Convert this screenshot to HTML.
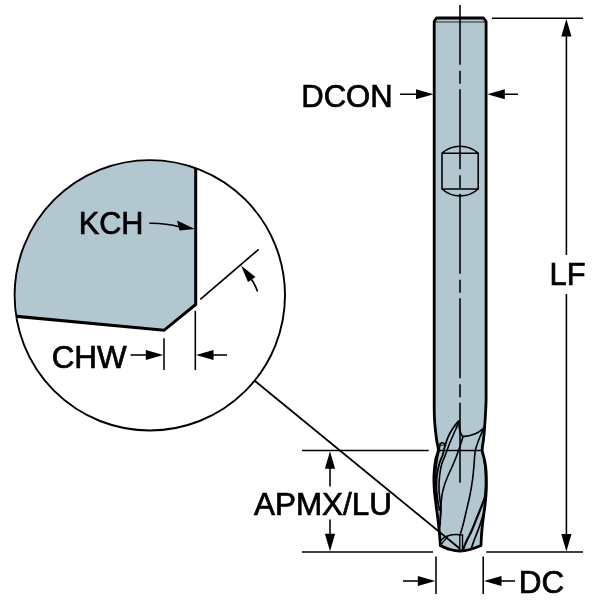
<!DOCTYPE html>
<html><head><meta charset="utf-8">
<style>
html,body{margin:0;padding:0;background:#fff;}
svg{display:block;will-change:transform}
text{font-family:"Liberation Sans",Arial,sans-serif;font-size:31px;fill:#000;stroke:#000;stroke-width:0.7px}
</style></head><body>
<svg width="600" height="600" viewBox="0 0 600 600">
<rect width="600" height="600" fill="#fff"/>
<!-- detail circle -->
<defs><clipPath id="cc"><circle cx="149.8" cy="295.3" r="135.2"/></clipPath></defs>
<g clip-path="url(#cc)">
<path d="M0,314.8 L164,330.3 L195.7,304.5 L195.7,150 L0,150 Z" fill="#b3c7d1"/>
<path d="M0,314.8 L164,330.3 L195.7,304.5 L195.7,150" fill="none" stroke="#000" stroke-width="3" stroke-linejoin="miter"/>
</g>
<circle cx="149.8" cy="295.3" r="135.2" fill="none" stroke="#000" stroke-width="1.9"/>
<!-- leader -->
<!-- KCH -->
<text x="78.7" y="234" textLength="64.8" lengthAdjust="spacingAndGlyphs">KCH</text>
<path d="M149.3,223.3 Q165,223 180,227" fill="none" stroke="#000" stroke-width="1.55"/>
<path d="M194.8,228.9 L179.5,230.4 L177,220.6 Z" fill="#000"/>
<!-- angle ext line -->
<line x1="200.3" y1="299.4" x2="258.7" y2="249.3" stroke="#000" stroke-width="1.7"/>
<path d="M257.5,291.5 Q255,284 251.5,279.5" fill="none" stroke="#000" stroke-width="1.7"/>
<path d="M241,265.6 L255.5,277 L248,282 Z" fill="#000"/>
<!-- CHW -->
<text x="51.7" y="367.8" textLength="75" lengthAdjust="spacingAndGlyphs">CHW</text>
<line x1="164" y1="338.3" x2="164" y2="370" stroke="#000" stroke-width="1.55"/>
<line x1="195.3" y1="310.7" x2="195.3" y2="370" stroke="#000" stroke-width="1.55"/>
<line x1="130.5" y1="355" x2="150" y2="355" stroke="#000" stroke-width="1.55"/>
<path d="M163.3,355 L145.8,349.9 L145.8,360.1 Z" fill="#000"/>
<line x1="227" y1="355" x2="210" y2="355" stroke="#000" stroke-width="1.55"/>
<path d="M196,355 L213.5,349.9 L213.5,360.1 Z" fill="#000"/>

<!-- tool body -->
<path d="M436.5,18 L434.2,21.5 L434.2,392 C434.2,393.3 434.2,395.8 434.2,400.0 C434.2,404.2 434.2,412.2 434.4,417.0 C434.6,421.8 434.9,425.0 435.3,429.0 C435.7,433.0 436.3,437.4 436.8,441.0 C437.3,444.6 438.5,447.1 438.3,450.3 C438.1,453.5 436.3,455.9 435.6,460.0 C434.9,464.1 434.2,470.0 434.0,475.0 C433.8,480.0 434.0,485.5 434.3,490.0 C434.6,494.5 435.3,498.7 435.7,502.0 C436.1,505.3 436.2,506.2 436.7,510.0 C437.2,513.8 438.1,520.0 438.6,525.0 C439.2,530.0 439.7,536.6 440.0,540.0 C440.3,543.4 440.2,544.6 440.3,545.5 C441.9,546.2 446.7,548.6 450.0,549.5 C453.3,550.4 456.7,551.0 460.0,551.0 C463.3,551.0 466.5,550.4 470.0,549.5 C473.5,548.6 479.2,546.2 481.0,545.5 C481.1,543.8 481.2,539.2 481.5,535.0 C481.8,530.8 482.4,525.0 483.0,520.0 C483.6,515.0 484.5,509.2 485.0,505.0 C485.5,500.8 485.8,498.3 486.0,495.0 C486.2,491.7 486.4,489.2 486.4,485.0 C486.4,480.8 486.3,474.2 486.0,470.0 C485.7,465.8 485.1,463.3 484.5,460.0 C483.9,456.7 482.4,453.5 482.2,450.3 C482.0,447.1 482.9,444.6 483.3,441.0 C483.7,437.4 484.2,433.0 484.5,429.0 C484.8,425.0 485.0,421.8 485.3,417.0 C485.6,412.2 486.0,404.2 486.1,400.0 C486.2,395.8 486.1,393.3 486.1,392.0 L486.1,21.5 L483.5,18 Z" fill="#b3c7d1" stroke="#000" stroke-width="2.8" stroke-linejoin="round"/>
<line x1="434.2" y1="22" x2="486.1" y2="22" stroke="#000" stroke-width="0.8"/>
<!-- flat -->
<path d="M442,153.2 L478.2,153.2 L478.2,189 L442,189 Z M442,153.2 A27.2,27.2 0 0 1 478.2,153.2 M442,189 A27.2,27.2 0 0 0 478.2,189" fill="none" stroke="#000" stroke-width="1.55"/>
<!-- neck line -->
<line x1="438" y1="450.5" x2="482" y2="450.5" stroke="#000" stroke-width="1.6"/>
<!-- flutes -->
<path d="M458.3,421.3 C457.5,422.4 454.8,425.5 453.3,427.7 C451.8,429.9 450.5,432.0 449.3,434.3 C448.1,436.6 447.1,439.4 446.3,441.7 C445.5,444.0 444.9,446.1 444.3,448.3 C443.7,450.5 443.5,452.6 442.7,455.0 C441.9,457.4 440.4,459.7 439.5,463.0 C438.6,466.3 437.5,470.5 437.0,475.0 C436.5,479.5 436.3,485.5 436.5,490.0 C436.7,494.5 437.5,498.7 438.0,502.0 C438.5,505.3 439.2,508.7 439.5,510.0" fill="none" stroke="#000" stroke-width="1.8" stroke-linecap="round"/>
<path d="M458.7,422.3 C458.1,423.6 456.4,427.7 455.3,430.3 C454.2,432.9 453.1,435.1 452.0,437.7 C450.9,440.3 449.8,442.8 448.7,445.7 C447.6,448.6 446.5,451.8 445.3,455.0 C444.1,458.2 442.5,461.3 441.5,465.0 C440.5,468.7 439.9,472.8 439.5,477.0 C439.1,481.2 438.9,486.2 439.0,490.0 C439.1,493.8 439.7,496.7 440.0,500.0 C440.3,503.3 441.1,505.3 441.0,510.0 C440.9,514.7 439.8,525.0 439.5,528.0" fill="none" stroke="#000" stroke-width="1.6" stroke-linecap="round"/>
<path d="M459.0,421.2 C459.1,422.2 459.1,425.1 459.3,427.0 C459.5,428.9 459.7,430.8 460.3,432.3 C460.9,433.9 462.0,435.6 462.7,436.3 C463.4,437.0 463.3,436.4 464.5,436.3 C465.7,436.2 467.9,436.1 470.0,435.5 C472.1,434.9 475.1,433.9 477.0,433.0 C478.9,432.1 480.2,431.0 481.5,430.0 C482.8,429.0 484.0,427.5 484.5,427.0" fill="none" stroke="#000" stroke-width="1.8" stroke-linecap="round"/>
<path d="M463.0,436.5 C462.6,437.7 461.6,441.2 460.9,443.5 C460.1,445.8 459.4,448.0 458.5,450.5 C457.6,453.0 456.9,455.3 455.7,458.3 C454.5,461.3 452.7,465.4 451.3,468.5 C449.9,471.6 448.6,474.2 447.5,477.0 C446.4,479.8 445.4,482.0 444.5,485.0 C443.6,488.0 442.6,490.8 442.0,495.0 C441.4,499.2 441.0,505.0 440.7,510.0 C440.4,515.0 440.1,522.5 440.0,525.0" fill="none" stroke="#000" stroke-width="1.6" stroke-linecap="round"/>
<path d="M483.3,429.2 C482.7,430.6 481.0,434.4 479.8,437.3 C478.6,440.2 477.1,444.4 476.3,446.7 C475.5,449.0 475.5,449.4 475.2,451.3 C474.9,453.2 474.7,455.7 474.5,458.0 C474.3,460.3 474.3,461.3 474.0,465.0 C473.7,468.7 473.2,475.0 472.5,480.0 C471.8,485.0 470.9,490.3 470.0,495.0 C469.1,499.7 468.0,503.7 467.0,508.0 C466.0,512.3 465.0,517.0 464.0,521.0 C463.0,525.0 461.7,529.7 461.0,532.0 C460.3,534.3 460.2,534.5 460.0,535.0" fill="none" stroke="#000" stroke-width="1.6" stroke-linecap="round"/>
<path d="M440.0,443.9 C440.3,443.7 441.3,442.7 442.0,442.7 C442.7,442.7 443.7,443.3 444.3,443.7 C444.9,444.1 445.5,444.7 445.7,444.9" fill="none" stroke="#000" stroke-width="1.5" stroke-linecap="round"/>
<path d="M441.0,445.2 C441.4,445.2 443.0,445.1 443.7,445.2 C444.4,445.3 444.8,445.9 445.0,446.0" fill="none" stroke="#000" stroke-width="1.0" stroke-linecap="round"/>
<path d="M440.2,444.0 C440.0,445.0 439.6,447.7 439.2,450.0 C438.8,452.3 438.0,454.7 437.5,458.0 C437.0,461.3 436.3,465.5 436.0,470.0 C435.7,474.5 435.6,480.0 435.8,485.0 C436.0,490.0 436.8,497.5 437.0,500.0" fill="none" stroke="#000" stroke-width="1.5" stroke-linecap="round"/>
<path d="M440.5,540.8 C441.2,540.2 442.9,538.2 444.5,537.3 C446.1,536.4 448.2,535.7 450.0,535.2 C451.8,534.7 453.8,534.6 455.5,534.5 C457.2,534.4 458.8,534.7 460.0,534.8 C461.2,534.9 462.1,535.0 462.5,535.0" fill="none" stroke="#000" stroke-width="1.5" stroke-linecap="round"/>
<path d="M462.5,535.0 C462.5,537.4 462.5,547.1 462.5,549.5" fill="none" stroke="#000" stroke-width="1.4" stroke-linecap="round"/>
<path d="M459.8,535.0 C459.8,537.5 459.8,547.5 459.8,550.0" fill="none" stroke="#000" stroke-width="1.3" stroke-linecap="round"/>
<path d="M441.0,544.5 C442.1,543.2 446.4,538.2 447.5,537.0" fill="none" stroke="#000" stroke-width="1.2" stroke-linecap="round"/>
<path d="M484.8,497.0 C484.7,497.5 485.1,497.0 484.0,500.0 C482.9,503.0 480.0,510.0 478.0,515.0 C476.0,520.0 473.8,525.8 472.0,530.0 C470.2,534.2 468.5,536.8 467.0,540.0 C465.5,543.2 463.7,547.9 463.0,549.5" fill="none" stroke="#000" stroke-width="2.2" stroke-linecap="round"/>
<path d="M485.3,505.0 C485.2,505.8 485.4,506.7 484.5,510.0 C483.6,513.3 481.6,520.3 480.0,525.0 C478.4,529.7 476.5,534.0 475.0,538.0 C473.5,542.0 471.7,547.2 471.0,549.0" fill="none" stroke="#000" stroke-width="1.7" stroke-linecap="round"/>
<path d="M483.5,458.0 C483.8,460.0 484.7,465.5 485.0,470.0 C485.3,474.5 485.4,480.0 485.3,485.0 C485.2,490.0 484.5,497.5 484.3,500.0" fill="none" stroke="#000" stroke-width="1.2" stroke-linecap="round"/>
<line x1="254.7" y1="380.8" x2="460" y2="548.8" stroke="#000" stroke-width="1.8"/>
<!-- centerline -->
<line x1="460" y1="5" x2="460" y2="483.5" stroke="#000" stroke-width="1.55" stroke-dasharray="80 6 13 5.5" stroke-dashoffset="20.3"/>

<!-- DCON -->
<text x="301.2" y="107" textLength="91.5" lengthAdjust="spacingAndGlyphs">DCON</text>
<line x1="400" y1="94.25" x2="418" y2="94.25" stroke="#000" stroke-width="1.55"/>
<path d="M433.5,94.25 L416,89.15 L416,99.35 Z" fill="#000"/>
<line x1="518" y1="94.25" x2="503" y2="94.25" stroke="#000" stroke-width="1.55"/>
<path d="M487.3,94.25 L504.8,89.15 L504.8,99.35 Z" fill="#000"/>

<!-- LF -->
<line x1="492" y1="18.3" x2="583" y2="18.3" stroke="#000" stroke-width="1.55"/>
<line x1="486.3" y1="552" x2="583" y2="552" stroke="#000" stroke-width="1.55"/>
<line x1="566.4" y1="33" x2="566.4" y2="255" stroke="#000" stroke-width="1.55"/>
<line x1="566.4" y1="294" x2="566.4" y2="537" stroke="#000" stroke-width="1.55"/>
<path d="M566.4,19 L561.3,36.5 L571.5,36.5 Z" fill="#000"/>
<path d="M566.4,551.5 L561.3,534 L571.5,534 Z" fill="#000"/>
<text x="549.5" y="284.6" textLength="36" lengthAdjust="spacingAndGlyphs">LF</text>

<!-- APMX/LU -->
<line x1="302" y1="450.5" x2="428.7" y2="450.5" stroke="#000" stroke-width="1.55"/>
<line x1="302" y1="552" x2="433" y2="552" stroke="#000" stroke-width="1.55"/>
<line x1="330" y1="466" x2="330" y2="486.5" stroke="#000" stroke-width="1.55"/>
<line x1="330" y1="519.5" x2="330" y2="537" stroke="#000" stroke-width="1.55"/>
<path d="M330,451.2 L324.9,468.7 L335.1,468.7 Z" fill="#000"/>
<path d="M330,551.3 L324.9,533.8 L335.1,533.8 Z" fill="#000"/>
<text x="254" y="515" textLength="138" lengthAdjust="spacingAndGlyphs">APMX/LU</text>

<!-- DC -->
<line x1="436" y1="556.4" x2="436" y2="594" stroke="#000" stroke-width="1.55"/>
<line x1="483.2" y1="556.4" x2="483.2" y2="594" stroke="#000" stroke-width="1.55"/>
<line x1="403" y1="581" x2="420" y2="581" stroke="#000" stroke-width="1.55"/>
<path d="M435.3,581 L417.8,575.9 L417.8,586.1 Z" fill="#000"/>
<line x1="515" y1="581" x2="500" y2="581" stroke="#000" stroke-width="1.55"/>
<path d="M484,581 L501.5,575.9 L501.5,586.1 Z" fill="#000"/>
<text x="518.7" y="593" textLength="45.5" lengthAdjust="spacingAndGlyphs">DC</text>
</svg>
</body></html>
